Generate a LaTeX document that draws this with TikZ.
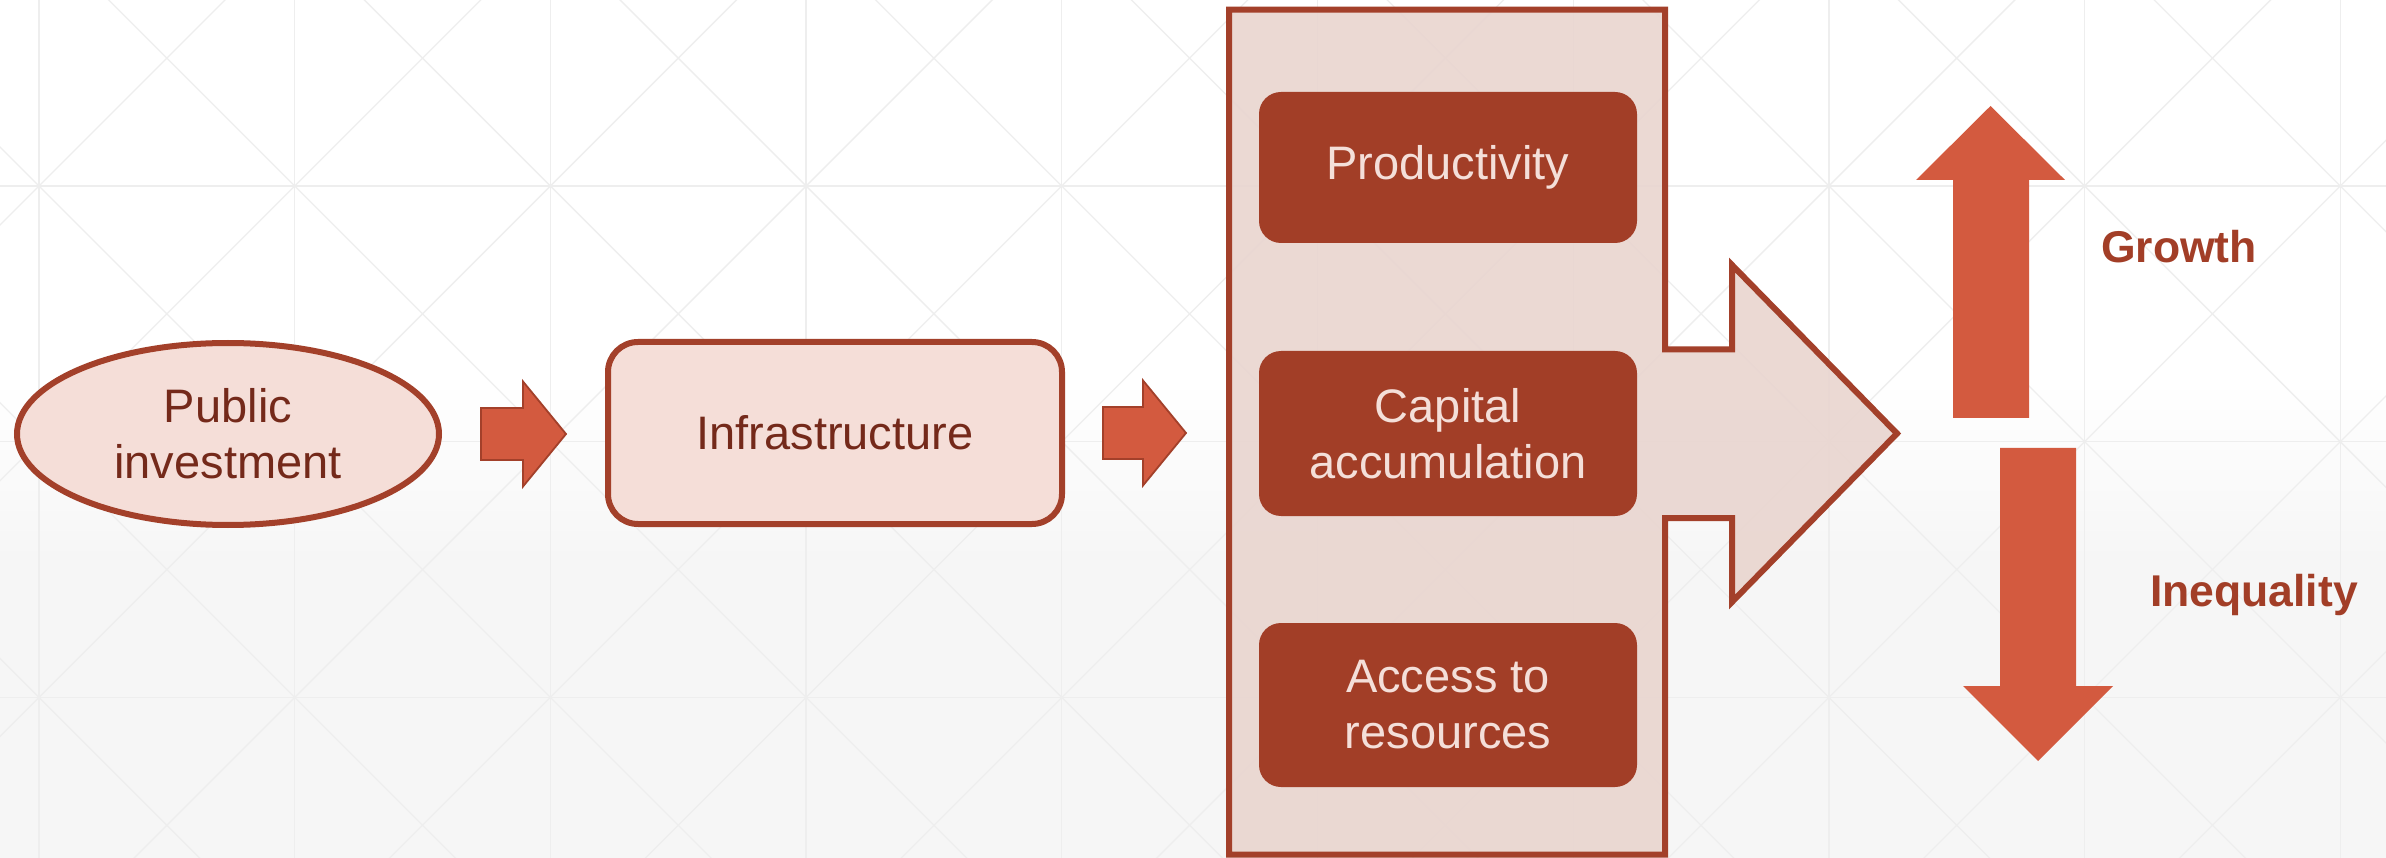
\documentclass[tikz,border=0pt]{standalone}
\usepackage{fontspec}
\setmainfont{Liberation Sans}
\usetikzlibrary{calc,shapes.geometric}

\definecolor{rust}{HTML}{A3402A}
\definecolor{rustdark}{HTML}{A23E27}
\definecolor{brick}{HTML}{D35A3F}
\definecolor{blush}{HTML}{F5DED8}
\definecolor{panel}{HTML}{E9D5CF}
\definecolor{inktext}{HTML}{74291A}
\definecolor{paletext}{HTML}{F4DFD9}
\definecolor{gridline}{HTML}{EEEEEE}
\definecolor{floor}{HTML}{F6F6F6}

% horizontal block arrow from a tail point to a tip point
\newcommand\flowarrow[2]{%
  \draw[blockarrow] let \p1=(#1), \p2=(#2) in
    (\x1,\y1+26pt) -- (\x2-43pt,\y1+26pt) -- (\x2-43pt,\y1+52.5pt) -- (\x2,\y1)
    -- (\x2-43pt,\y1-52.5pt) -- (\x2-43pt,\y1-26pt) -- (\x1,\y1-26pt) -- cycle;}

\begin{document}
\begin{tikzpicture}[x=1pt,y=-1pt,
  every node/.style={inner sep=0pt, outer sep=0pt},
  bodytext/.style={font=\fontsize{47}{56}\selectfont, align=center},
  lightshape/.style={draw=rust, line width=6pt, fill=blush, text=inktext, bodytext},
  factor/.style={fill=rustdark, rounded corners=22pt, minimum width=378pt, text=paletext, bodytext},
  blockarrow/.style={fill=brick, draw=rust, line width=1.8pt, line join=miter},
  bigarrow/.style={fill=brick},
  gridstroke/.style={draw=gridline, line width=1.3pt},
  outcome/.style={font=\fontsize{44.5}{53}\selectfont\bfseries, text=rustdark, anchor=base},
]
\useasboundingbox (0,0) rectangle (2386,858);

% backdrop: white fading to a pale grey floor
\fill[white] (0,0) rectangle (2386,380);
\shade[top color=white, bottom color=floor] (0,380) rectangle (2386,560);
\fill[floor] (0,560) rectangle (2386,858);

% faint lattice of squares with both diagonals
\begin{scope}
  \clip (0,0) rectangle (2386,858);
  \foreach \k in {0,...,9}
    \draw[gridstroke] ({39+255.7*\k},0) -- ({39+255.7*\k},858);
  \foreach \r in {186,441.7,697.4}
    \draw[gridstroke] (0,\r) -- (2386,\r);
  \foreach \k in {-4,...,13} {
    \draw[gridstroke] ({39+255.7*\k-1100},{186-1100}) -- ({39+255.7*\k+1100},{186+1100});
    \draw[gridstroke] ({39+255.7*\k-1100},{186+1100}) -- ({39+255.7*\k+1100},{186-1100});
  }
\end{scope}

% first two stages
\node[lightshape, ellipse, minimum width=422pt, minimum height=182pt] (pub) at (228,434) {Public\\investment};
\node[lightshape, rounded corners=30pt, minimum width=454pt, minimum height=182pt] (infra) at (835,433) {Infrastructure};

% channel panel with its outgoing arrow
\draw[draw=rust, line width=6pt, fill=panel, fill opacity=0.9, line join=miter]
  (1229,9.7) -- (1665,9.7) -- (1665,349.5) -- (1732,349.5) -- (1732,265)
  -- (1897,433.5) -- (1732,602) -- (1732,518) -- (1665,518) -- (1665,854.5)
  -- (1229,854.5) -- cycle;
\node[minimum width=436pt, minimum height=845pt] (chan) at (1447,432) {};

\node[factor, minimum height=151pt] (prod) at (1448,167.5) {Productivity};
\node[factor, minimum height=165pt] (cap) at (1448,433.5) {Capital\\accumulation};
\node[factor, minimum height=164pt] (acc) at (1448,705) {Access to\\resources};

% block arrows between stages
\coordinate (a1tail) at ($(pub.east)+(42,0)$);
\coordinate (a1tip) at ($(infra.west)+(-42,0)$);
\coordinate (a2tail) at ($(infra.east)+(41,0)$);
\coordinate (a2tip) at ($(chan.west)+(-43,1)$);
\flowarrow{a1tail}{a1tip}
\flowarrow{a2tail}{a2tip}

% outcomes
\fill[bigarrow] (1990.5,106) -- (2065,180) -- (2029,180) -- (2029,418)
  -- (1953,418) -- (1953,180) -- (1916,180) -- cycle;
\fill[bigarrow] (2000,448) -- (2076,448) -- (2076,686) -- (2113,686)
  -- (2038,761) -- (1963,686) -- (2000,686) -- cycle;

\node[outcome] (growth) at (2179,263) {Growth};
\node[outcome] (ineq) at (2254,606) {Inequality};
\end{tikzpicture}
\end{document}
